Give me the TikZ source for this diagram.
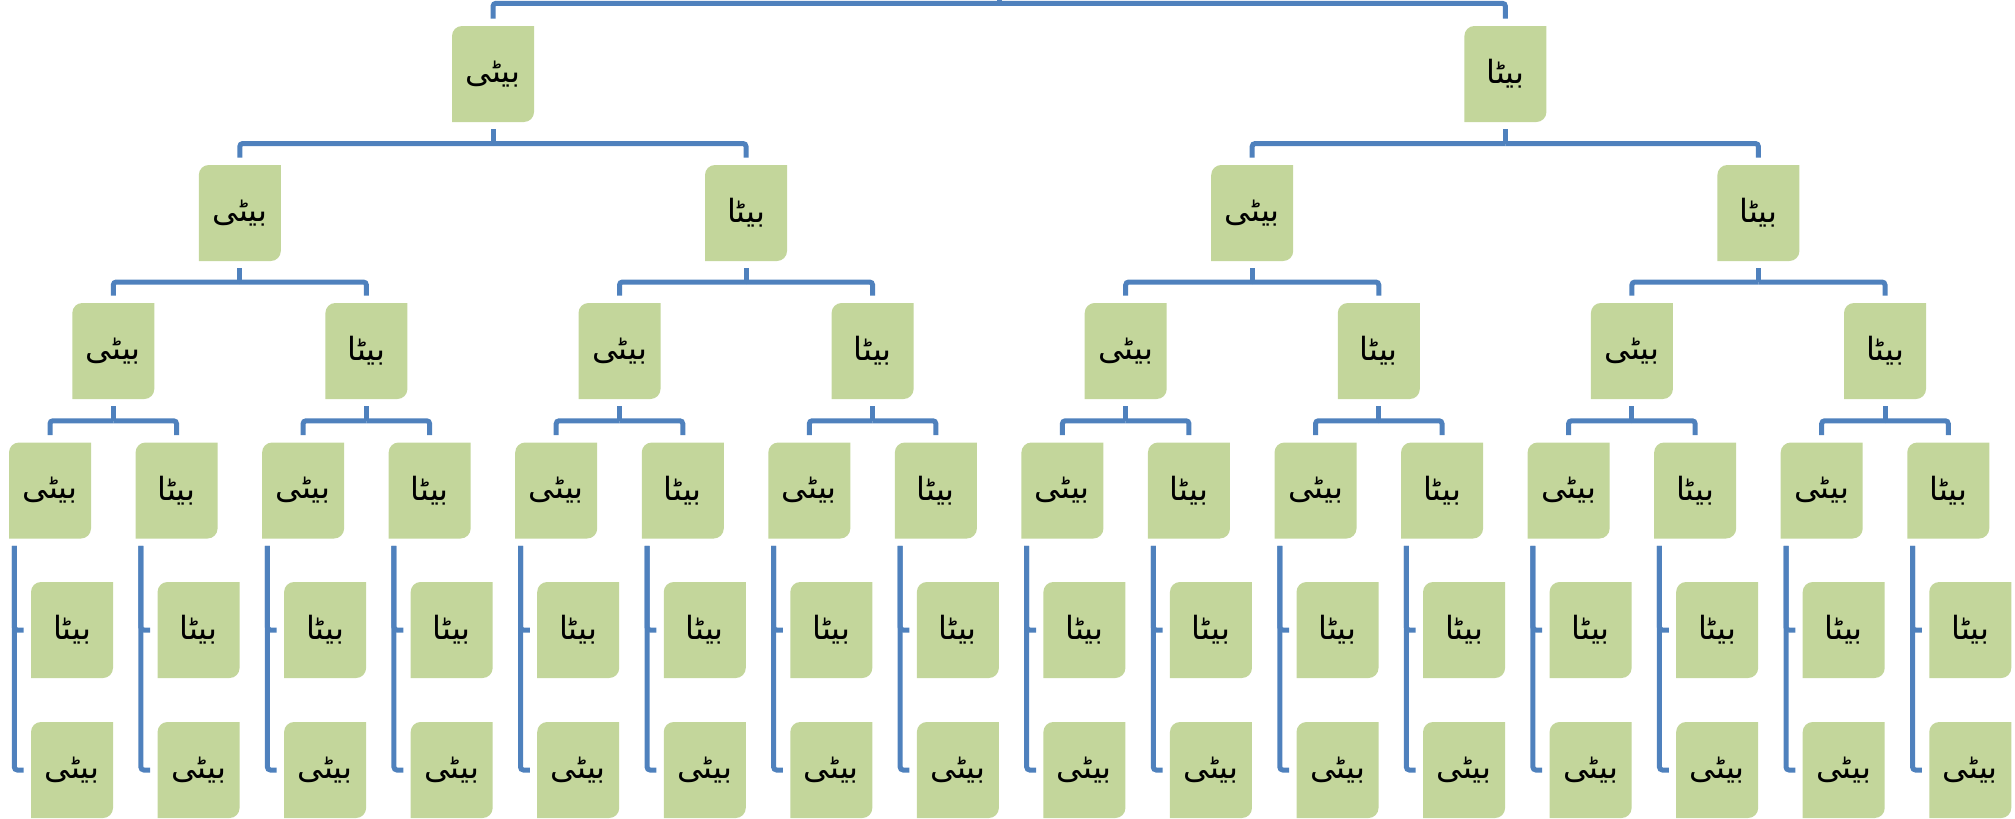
\documentclass[tikz,border=0pt]{standalone}
\usepackage{fontspec}
\newfontfamily\urdu[Script=Arabic]{DejaVu Sans}
\TeXXeTstate=1
\usetikzlibrary{calc}
\definecolor{kidgreen}{RGB}{195,214,155}
\definecolor{linkblue}{RGB}{79,129,189}
\newcommand{\girl}{\beginR بیٹی\endR}
\newcommand{\boy}{\beginR بیٹا\endR}
\tikzset{
  kid/.style={minimum width=41pt, minimum height=48pt, inner sep=0pt, fill=white,
    font=\urdu\fontsize{16}{16}\selectfont,
    path picture={\fill[kidgreen, x=1pt, y=1pt] (path picture bounding box.south west)
      -- ([yshift=-5pt]path picture bounding box.north west)
      arc[start angle=180, end angle=90, radius=5pt]
      -- (path picture bounding box.north east)
      -- ([yshift=5pt]path picture bounding box.south east)
      arc[start angle=0, end angle=-90, radius=5pt] -- cycle;}},
  link/.style={draw=linkblue, line width=2.5pt, rounded corners=1.5pt},
  stub/.style={draw=linkblue, line width=2.5pt}
}

\begin{document}
\begin{tikzpicture}[x=0.5pt, y=-0.5pt]
  \useasboundingbox (0,0) rectangle (2015,819);
  \coordinate (top) at (999.1,-19);
  % first row
  \foreach \i in {0,1} {
    \node[kid] (a\i) at ({493+1012.4*\i},74) {\ifodd\i\relax\boy\else\girl\fi};
    \coordinate (m) at ($(top)!.5!(a\i.north)$);
    \draw[stub] (top) -- (top |- m);
    \draw[link] (top |- m) -| ([yshift=3.5pt]a\i.north);
  }
  % second row
  \foreach \i in {0,...,3} {
    \pgfmathtruncatemacro{\p}{\i/2}
    \node[kid] (b\i) at ({239.8+506.2*\i},213) {\ifodd\i\relax\boy\else\girl\fi};
    \coordinate (m) at ($(a\p.south)!.5!(b\i.north)$);
    \draw[stub] ([yshift=-3.5pt]a\p.south) -- (a\p.south |- m);
    \draw[link] (a\p.south |- m) -| ([yshift=3.5pt]b\i.north);
  }
  % third row
  \foreach \i in {0,...,7} {
    \pgfmathtruncatemacro{\p}{\i/2}
    \node[kid] (c\i) at ({113.3+253.1*\i},351) {\ifodd\i\relax\boy\else\girl\fi};
    \coordinate (m) at ($(b\p.south)!.5!(c\i.north)$);
    \draw[stub] ([yshift=-3.5pt]b\p.south) -- (b\p.south |- m);
    \draw[link] (b\p.south |- m) -| ([yshift=3.5pt]c\i.north);
  }
  % fourth row
  \foreach \i in {0,...,15} {
    \pgfmathtruncatemacro{\p}{\i/2}
    \node[kid] (d\i) at ({50+126.55*\i},490.5) {\ifodd\i\relax\boy\else\girl\fi};
    \coordinate (m) at ($(c\p.south)!.5!(d\i.north)$);
    \draw[stub] ([yshift=-3.5pt]c\p.south) -- (c\p.south |- m);
    \draw[link] (c\p.south |- m) -| ([yshift=3.5pt]d\i.north);
  }
  % hanging pairs
  \foreach \i in {0,...,15} {
    \node[kid] (son\i) at ({72+126.55*\i},630) {\boy};
    \node[kid] (dau\i) at ({72+126.55*\i},770) {\girl};
    \draw[link] ([shift={(2.85pt,-3.5pt)}]d\i.south west) |- ([xshift=-3.5pt]son\i.west);
    \draw[link] ([shift={(2.85pt,-3.5pt)}]d\i.south west) |- ([xshift=-3.5pt]dau\i.west);
  }
\end{tikzpicture}
\end{document}
